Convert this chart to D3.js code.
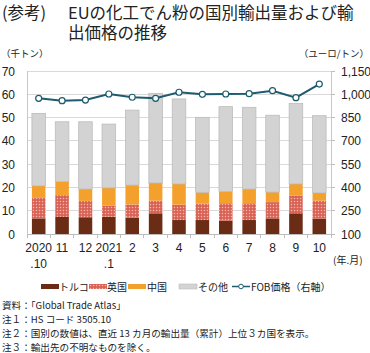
<!DOCTYPE html>
<html><head><meta charset="utf-8">
<script src="https://cdn.jsdelivr.net/npm/d3@7"></script>
<style>
body{margin:0;background:#fff;}
text{font-family:"Liberation Sans","Noto Sans CJK JP",sans-serif;fill:#222;}
.jp{font-family:"Noto Sans CJK JP","Liberation Sans",sans-serif;}
</style></head>
<body><svg id="c" width="370" height="353"></svg>
<script>
const categories = ["2020.10","11","12","2021.1","2","3","4","5","6","7","8","9","10"];
const xLabelTop = ["2020","11","12","2021","2","3","4","5","6","7","8","9","10"];
const xLabelBottom = [".10","","",".1","","","","","","","","",""];
const turkey = [6.7,7.3,7.2,7.4,7.0,8.9,6.0,6.0,5.7,6.0,6.7,8.9,6.6];
const uk     = [8.8,9.4,7.0,4.8,5.7,5.4,6.6,7.0,7.5,7.2,7.0,7.5,7.7];
const china  = [5.2,5.8,5.1,7.6,8.3,7.6,8.9,4.9,5.1,6.1,4.3,5.1,3.4];
const other  = [31.1,25.7,28.9,27.4,32.2,38.5,36.5,32.2,36.4,35.1,33.0,34.6,33.1];
const fob    = [974,959,963,1002,981,974,1013,1000,1002,1004,1023,978,1066];
const leftTicks = [0,10,20,30,40,50,60,70];
const rightTicks = [100,250,400,550,700,850,1000,1150];
const seriesNames = ["トルコ","英国","中国","その他"];

const svg = d3.select("#c");
const defs = svg.append("defs");
const pat = defs.append("pattern").attr("id","ukpat").attr("width",3).attr("height",3).attr("patternUnits","userSpaceOnUse");
pat.append("rect").attr("width",3).attr("height",3).attr("fill","#df6f62");
pat.append("rect").attr("x",0).attr("y",0).attr("width",1).attr("height",1).attr("fill","#f6b9aa");
pat.append("rect").attr("x",1.5).attr("y",1.5).attr("width",1).attr("height",1).attr("fill","#c2392c");

const colors = ["#6b2c16","url(#ukpat)","#f4a02c","#d3d3d3"];
const L=27,R=331,T=71,B=234;
const x = d3.scaleBand().domain(categories).range([L,R]).paddingInner(0.42).paddingOuter(0.21);
const y = d3.scaleLinear().domain([0,70]).range([B,T]);
const y2 = d3.scaleLinear().domain([100,1150]).range([B,T]);

// grid
svg.append("g").selectAll("line").data(leftTicks).join("line")
  .attr("x1",L).attr("x2",R).attr("y1",d=>y(d)).attr("y2",d=>y(d))
  .attr("stroke",d=>d===0?"#bdbdbd":"#d9d9d9").attr("stroke-width",1).attr("shape-rendering","crispEdges");
svg.append("line").attr("x1",L).attr("x2",L).attr("y1",T).attr("y2",B).attr("stroke","#c8c8c8").attr("shape-rendering","crispEdges");
svg.append("line").attr("x1",R).attr("x2",R).attr("y1",T).attr("y2",B).attr("stroke","#c8c8c8").attr("shape-rendering","crispEdges");

// stacked bars
const rows = categories.map((c,i)=>({cat:c, s0:turkey[i], s1:uk[i], s2:china[i], s3:other[i]}));
const stack = d3.stack().keys(["s0","s1","s2","s3"])(rows);
svg.append("g").selectAll("g").data(stack).join("g")
  .attr("fill",(d,i)=>colors[i])
  .attr("stroke",(d,i)=>i===3?"#bcbcbc":"none").attr("stroke-width",0.8)
  .selectAll("rect").data(d=>d).join("rect")
  .attr("x",d=>x(d.data.cat)).attr("width",x.bandwidth())
  .attr("y",d=>y(d[1])).attr("height",d=>y(d[0])-y(d[1]));

// x ticks
const step = x.step();
const bounds = d3.range(categories.length+1).map(i=>L+i*step);
svg.append("g").selectAll("line").data(bounds).join("line")
  .attr("x1",d=>d).attr("x2",d=>d).attr("y1",B).attr("y2",B+4)
  .attr("stroke","#bdbdbd").attr("shape-rendering","crispEdges");
svg.append("g").selectAll("line").data(rightTicks).join("line")
  .attr("x1",R).attr("x2",R+4).attr("y1",d=>y2(d)).attr("y2",d=>y2(d))
  .attr("stroke","#bdbdbd").attr("shape-rendering","crispEdges");

// line
const cx = i=>x(categories[i])+x.bandwidth()/2;
svg.append("path").datum(fob)
  .attr("d",d3.line().x((d,i)=>cx(i)).y(d=>y2(d)))
  .attr("fill","none").attr("stroke","#1d5b6e").attr("stroke-width",2);
svg.append("g").selectAll("circle").data(fob).join("circle")
  .attr("cx",(d,i)=>cx(i)).attr("cy",d=>y2(d)).attr("r",3)
  .attr("fill","#fff").attr("stroke","#1d5b6e").attr("stroke-width",1.2);

// tick labels
svg.append("g").selectAll("text").data(leftTicks).join("text")
  .attr("x",15).attr("y",d=>y(d)+4.5).attr("text-anchor","end").attr("font-size",12).text(d=>d);
svg.append("g").selectAll("text").data(rightTicks).join("text")
  .attr("x",341).attr("y",d=>y2(d)+4.5).attr("font-size",12).text(d3.format(","));
svg.append("g").selectAll("text").data(categories).join("text")
  .attr("x",c=>x(c)+x.bandwidth()/2).attr("y",252).attr("text-anchor","middle").attr("font-size",12)
  .text((c,i)=>xLabelTop[i]);
svg.append("g").selectAll("text").data(categories).join("text")
  .attr("x",c=>x(c)+x.bandwidth()/2).attr("y",268).attr("text-anchor","middle").attr("font-size",12)
  .text((c,i)=>xLabelBottom[i]);
svg.append("text").attr("class","jp").attr("x",333).attr("y",264).attr("font-size",10).text("(年.月)");

// units
svg.append("text").attr("class","jp").attr("x",1).attr("y",57).attr("font-size",9.5).text("（千トン）");
svg.append("text").attr("class","jp").attr("x",369).attr("y",57).attr("text-anchor","end").attr("font-size",9.5).text("（ユーロ/トン）");

// title
svg.append("text").attr("class","jp").attr("x",2).attr("y",18.5).attr("font-size",16.5).text("(参考)");
svg.append("text").attr("class","jp").attr("x",68).attr("y",18.5).attr("font-size",16.5).text("EUの化工でん粉の国別輸出量および輸");
svg.append("text").attr("class","jp").attr("x",68).attr("y",39).attr("font-size",16.5).text("出価格の推移");

// legend
const lg = svg.append("g");
const lx = [41,89,128,179];
const tw = [59,107,147,198];
seriesNames.forEach((n,i)=>{
  lg.append("rect").attr("x",lx[i]).attr("y",284).attr("width",18).attr("height",5)
    .attr("fill",colors[i]).attr("stroke",i===3?"#bcbcbc":"none").attr("stroke-width",0.6);
  lg.append("text").attr("class","jp").attr("x",tw[i]).attr("y",290.5).attr("font-size",10).text(n);
});
lg.append("line").attr("x1",232).attr("x2",250).attr("y1",286.5).attr("y2",286.5).attr("stroke","#1d5b6e").attr("stroke-width",1.5);
lg.append("circle").attr("cx",241).attr("cy",286.5).attr("r",2.3).attr("fill","#fff").attr("stroke","#1d5b6e").attr("stroke-width",1);
lg.append("text").attr("class","jp").attr("x",251).attr("y",290.5).attr("font-size",10).text("FOB価格（右軸）");

// notes
const notes = ["資料：「Global Trade Atlas」","注１：HS コード 3505.10","注２：国別の数値は、直近 13 カ月の輸出量（累計）上位３カ国を表示。","注３：輸出先の不明なものを除く。"];
svg.append("g").selectAll("text").data(notes).join("text").attr("class","jp")
  .attr("x",2).attr("y",(d,i)=>309+i*13.9).attr("font-size",9.6).text(d=>d);
</script>
</body></html>
